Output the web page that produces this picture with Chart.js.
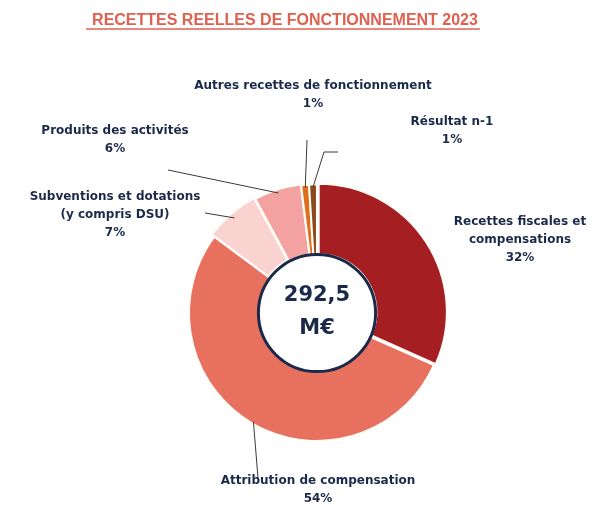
<!DOCTYPE html>
<html>
<head>
<meta charset="utf-8">
<script src="https://cdn.jsdelivr.net/npm/chart.js@4"></script>
<style>
  html, body { margin: 0; padding: 0; background: #fff; }
  #wrap { width: 600px; height: 505px; position: relative; }
</style>
</head>
<body>
<div id="wrap"><canvas id="stage" width="600" height="505"></canvas></div>
<script>
const title = 'RECETTES REELLES DE FONCTIONNEMENT 2023';
const categories = [
  ['Recettes fiscales et', 'compensations'],
  ['Attribution de compensation'],
  ['Subventions et dotations', '(y compris DSU)'],
  ['Produits des activités'],
  ['Autres recettes de fonctionnement'],
  ['Résultat n-1']
];
const shares = [32, 54, 7, 6, 1, 1];
const totalLabel = ['292,5', 'M€'];

const colors = ['#A51F22', '#E8705F', '#FAD3D1', '#F3A2A1', '#DF6F1C', '#8A4A1C'];
const offsets = [8, 0, 8, 4, 1, 1];
// label placement: text centre, then optional leader line end (and elbow)
const labelPos = [
  { x: 520, y: 222 },
  { x: 318, y: 481, line: [[258, 478]] },
  { x: 115, y: 197, line: [[205, 213]] },
  { x: 115, y: 131, line: [[168, 170]] },
  { x: 313, y: 86,  line: [[307, 140]] },
  { x: 452, y: 122, line: [[324, 152], [338, 152]] }
];

const navy = '#1B2A4A';
const labelFont = 'bold 12px "DejaVu Sans", sans-serif';

const overlay = {
  id: 'overlay',
  afterDraw(chart) {
    const ctx = chart.ctx;
    const arcs = chart.getDatasetMeta(0).data;
    ctx.save();

    // title
    ctx.font = 'bold 16px "Liberation Sans", Arial, sans-serif';
    ctx.fillStyle = '#E0604F';
    ctx.textAlign = 'center';
    ctx.textBaseline = 'alphabetic';
    ctx.fillText(title, 285, 25);
    const tw = ctx.measureText(title).width;
    ctx.strokeStyle = '#E0604F';
    ctx.lineWidth = 1.5;
    ctx.beginPath();
    ctx.moveTo(285 - tw / 2 - 6, 29);
    ctx.lineTo(285 + tw / 2 + 2, 29);
    ctx.stroke();

    // centre circle
    const c = arcs[0];
    const cx = c.x, cy = c.y;
    ctx.beginPath();
    ctx.arc(cx, cy, c.innerRadius + 1, 0, Math.PI * 2);
    ctx.fillStyle = '#fff';
    ctx.fill();
    ctx.lineWidth = 3;
    ctx.strokeStyle = navy;
    ctx.stroke();
    ctx.fillStyle = navy;
    ctx.font = 'bold 21px "DejaVu Sans", sans-serif';
    ctx.textBaseline = 'middle';
    ctx.fillText(totalLabel[0], cx, cy - 17);
    ctx.fillText(totalLabel[1], cx, cy + 16);

    // slice labels and leader lines
    ctx.font = labelFont;
    arcs.forEach((arc, i) => {
      const p = labelPos[i];
      if (p.line) {
        const mid = (arc.startAngle + arc.endAngle) / 2;
        const r = arc.outerRadius - 2;
        const sx = arc.x + Math.cos(mid) * r;
        const sy = arc.y + Math.sin(mid) * r;
        ctx.strokeStyle = '#3a3a3a';
        ctx.lineWidth = 1;
        ctx.beginPath();
        ctx.moveTo(sx, sy);
        p.line.forEach(q => ctx.lineTo(q[0], q[1]));
        ctx.stroke();
      }
      const lines = categories[i].concat([shares[i] + '%']);
      ctx.fillStyle = navy;
      ctx.textAlign = 'center';
      ctx.textBaseline = 'middle';
      lines.forEach((t, k) => ctx.fillText(t, p.x, p.y + k * 18));
    });
    ctx.restore();
  }
};

new Chart(document.getElementById('stage'), {
  type: 'doughnut',
  data: {
    labels: categories.map(c => c.join(' ')),
    datasets: [{
      data: shares,
      backgroundColor: colors,
      borderColor: '#FFFDF8',
      borderWidth: 2,
      offset: offsets
    }]
  },
  options: {
    responsive: false,
    animation: false,
    cutout: '45%',
    layout: { padding: { left: 184, right: 150, top: 180, bottom: 59 } },
    plugins: {
      legend: { display: false },
      tooltip: { enabled: false }
    }
  },
  plugins: [overlay]
});
</script>
</body>
</html>
